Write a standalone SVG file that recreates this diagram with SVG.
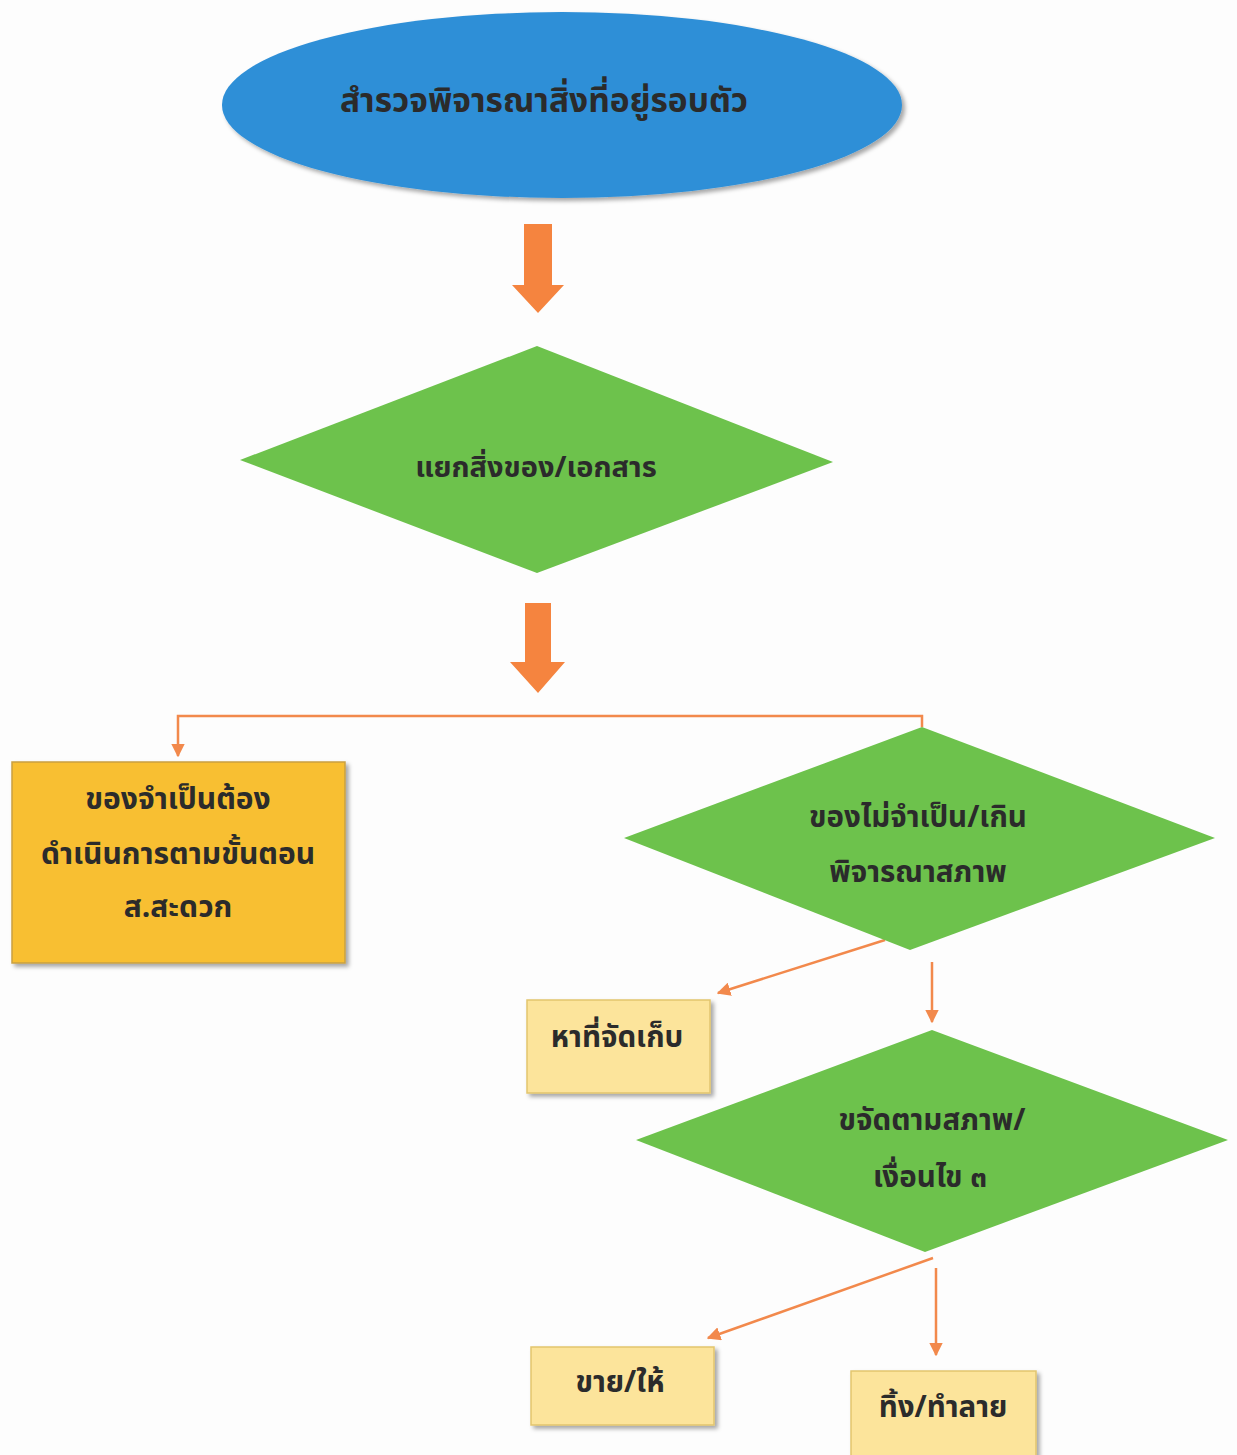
<svg xmlns="http://www.w3.org/2000/svg" width="1237" height="1455" viewBox="0 0 1237 1455">
<style>
text{font-family:"Noto Sans Thai","Noto Sans","DejaVu Sans",sans-serif;font-weight:bold;fill:#2b2b2b;text-anchor:middle;dominant-baseline:central}
.green{fill:#6DC24C}
.pale{fill:#FCE49B;stroke:#E2C56E;stroke-width:1.5}
.conn{fill:none;stroke:#F2894C;stroke-width:2.5}
.block{fill:#F5843F}
</style>
<defs>
<marker id="ah" viewBox="0 0 10 10" refX="9" refY="5" markerWidth="5.5" markerHeight="5.5" orient="auto" markerUnits="strokeWidth">
<path d="M0,0 L10,5 L0,10 z" fill="#F2894C"/>
</marker>
<filter id="sh" x="-10%" y="-10%" width="130%" height="130%">
<feDropShadow dx="3" dy="3" stdDeviation="2" flood-color="#000" flood-opacity="0.35"/>
</filter>
</defs>
<rect width="1237" height="1455" fill="#FDFDFD"/>
<g id="connectors">
<path class="block" d="M524,224 H552 V285 H564 L538,313 L512,285 H524 Z"/>
<path class="block" d="M525,603 H551 V662 H565 L538,693 L510,662 H525 Z"/>
<path class="conn" d="M922,727 V716 H178 V756" marker-end="url(#ah)"/>
<path class="conn" d="M885,940 L718,993" marker-end="url(#ah)"/>
<path class="conn" d="M932,962 V1022" marker-end="url(#ah)"/>
<path class="conn" d="M933,1258 L708,1338" marker-end="url(#ah)"/>
<path class="conn" d="M936,1268 V1355" marker-end="url(#ah)"/>
</g>
<g id="n1">
<ellipse cx="562" cy="105" rx="340" ry="93" fill="#2E8FD7" filter="url(#sh)"/>
<text x="544" y="101" font-size="33.5">สำรวจพิจารณาสิ่งที่อยู่รอบตัว</text>
</g>
<g id="n2">
<polygon class="green" points="240,460 537,346 833,462 537,573"/>
<text x="536" y="468" font-size="29">แยกสิ่งของ/เอกสาร</text>
</g>
<g id="n3">
<rect x="12" y="762" width="333" height="201" fill="#F8BF30" stroke="#C9A040" stroke-width="1.5" filter="url(#sh)"/>
<text x="178" y="800" font-size="30">ของจำเป็นต้อง</text>
<text x="178" y="855" font-size="30">ดำเนินการตามขั้นตอน</text>
<text x="178" y="908" font-size="30">ส.สะดวก</text>
</g>
<g id="n4">
<polygon class="green" points="624,838 922,727 1215,838 910,950"/>
<text x="918" y="818" font-size="29.5">ของไม่จำเป็น/เกิน</text>
<text x="918" y="873" font-size="29.5">พิจารณาสภาพ</text>
</g>
<g id="n5">
<rect class="pale" x="527" y="1000" width="183" height="93" filter="url(#sh)"/>
<text x="617" y="1038" font-size="29.5">หาที่จัดเก็บ</text>
</g>
<g id="n6">
<polygon class="green" points="636,1140 932,1030 1228,1140 925,1252"/>
<text x="932" y="1121" font-size="29.5">ขจัดตามสภาพ/</text>
<text x="930" y="1178" font-size="29.5">เงื่อนไข ๓</text>
</g>
<g id="n7">
<rect class="pale" x="531" y="1347" width="183" height="78" filter="url(#sh)"/>
<text x="620" y="1383" font-size="29.5">ขาย/ให้</text>
</g>
<g id="n8">
<rect class="pale" x="851" y="1371" width="185" height="90" filter="url(#sh)"/>
<text x="943" y="1408" font-size="29.5">ทิ้ง/ทำลาย</text>
</g>
</svg>
